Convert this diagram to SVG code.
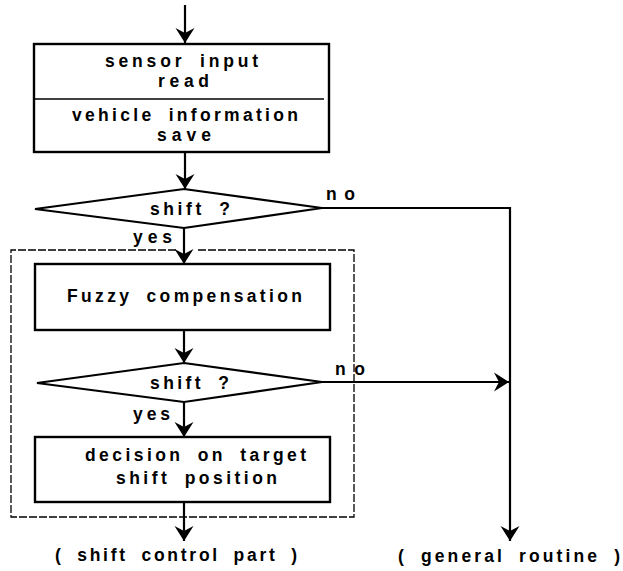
<svg xmlns="http://www.w3.org/2000/svg" width="623" height="571" viewBox="0 0 623 571">
<style>
  .box{fill:none;stroke:#000;stroke-width:2.4}
  .dia{fill:none;stroke:#000;stroke-width:2.2}
  .ln{fill:none;stroke:#000;stroke-width:2.2}
  .dash{fill:none;stroke:#000;stroke-width:1.3;stroke-dasharray:8 2}
  text{font-family:"Liberation Sans",Arial,Helvetica,sans-serif;font-weight:bold;font-size:17.5px;word-spacing:6px;fill:#000}
</style>
<defs>
  <marker id="ah" viewBox="0 0 15 20" refX="15" refY="10" markerWidth="15" markerHeight="20" markerUnits="userSpaceOnUse" orient="auto">
    <path d="M15,10 L0,0.5 L5,10 L0,19.5 Z" fill="#000"/>
  </marker>
</defs>
<rect width="623" height="571" fill="#fff"/>

<g id="connectors">
  <path class="ln" d="M185,5 V43" marker-end="url(#ah)"/>
  <path class="ln" d="M185,152 V189" marker-end="url(#ah)"/>
  <path class="ln" d="M184,228 V264" marker-end="url(#ah)"/>
  <path class="ln" d="M322,208 H510 V541" marker-end="url(#ah)"/>
  <path class="ln" d="M184,330 V363" marker-end="url(#ah)"/>
  <path class="ln" d="M184,402 V437" marker-end="url(#ah)"/>
  <path class="ln" d="M322,382 H509" marker-end="url(#ah)"/>
  <path class="ln" d="M184,502 V541" marker-end="url(#ah)"/>
</g>

<g id="shift-control-part">
  <path class="dash" d="M176,250 H11 V517 H354 V250 H198"/>
</g>

<g id="sensor-box">
  <rect class="box" x="34" y="44" width="295" height="108"/>
  <line x1="34" y1="99" x2="324" y2="99" stroke="#000" stroke-width="1.6"/>
  <text x="105" y="67" textLength="153">sensor input</text>
  <text x="158" y="87" textLength="51">read</text>
  <text x="72" y="121" textLength="226">vehicle information</text>
  <text x="157" y="141" textLength="54">save</text>
</g>

<g id="decision1">
  <polygon class="dia" points="184,189 322,208 184,228 35,209"/>
  <text x="150" y="215" textLength="80">shift ?</text>
</g>

<g id="labels1">
  <text x="326" y="200" textLength="29">no</text>
  <text x="133" y="243" textLength="39">yes</text>
</g>

<g id="fuzzy-box">
  <rect class="box" x="35" y="264" width="295" height="66"/>
  <text x="67" y="302" textLength="235">Fuzzy compensation</text>
</g>

<g id="decision2">
  <polygon class="dia" points="184,363 322,382 184,402 37,383"/>
  <text x="150" y="389" textLength="79">shift ?</text>
</g>

<g id="labels2">
  <text x="335" y="375" textLength="30">no</text>
  <text x="133" y="420" textLength="37">yes</text>
</g>

<g id="target-box">
  <rect class="box" x="35" y="437" width="295" height="65"/>
  <text x="85" y="461" textLength="221">decision on target</text>
  <text x="116" y="484" textLength="161">shift position</text>
</g>

<g id="out-shift">
  <text x="55" y="561" textLength="242">( shift control part )</text>
</g>
<g id="out-general">
  <text x="398" y="562" textLength="222">( general routine )</text>
</g>
</svg>
